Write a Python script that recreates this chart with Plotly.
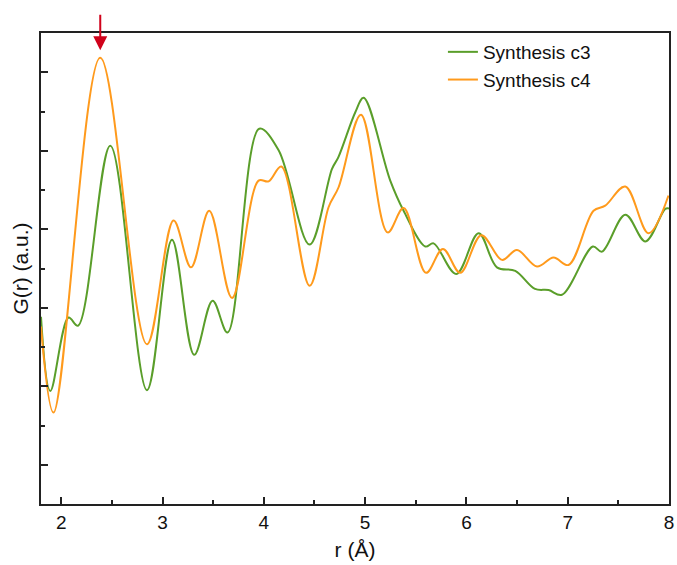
import plotly.graph_objects as go

# Synthesis c3 (green)
r_c3 = [1.80, 1.892, 2.072, 2.165, 2.484, 2.846, 3.093, 3.313, 3.494, 3.642,
        3.955, 4.146, 4.452, 4.673, 4.735, 4.903, 4.985, 5.248, 5.380, 5.594,
        5.676, 5.900, 6.120, 6.301, 6.482, 6.677, 6.811, 6.943, 7.248, 7.338,
        7.569, 7.767, 7.963, 8.0]
g_c3 = [-0.23, -2.12, -0.25, -0.46, 4.13, -2.10, 1.73, -1.20, 0.18, -0.63,
        4.56, 4.01, 1.61, 3.54, 3.83, 4.98, 5.35, 3.24, 2.47, 1.56,
        1.64, 0.86, 1.90, 1.03, 0.94, 0.48, 0.45, 0.33, 1.56, 1.43,
        2.37, 1.69, 2.52, 2.53]

# Synthesis c4 (orange)
r_c4 = [1.80, 1.924, 2.385, 2.846, 3.109, 3.281, 3.461, 3.686, 3.948, 4.047,
        4.172, 4.452, 4.639, 4.738, 4.959, 5.222, 5.380, 5.601, 5.768, 5.939,
        6.147, 6.351, 6.499, 6.696, 6.860, 7.008, 7.255, 7.370, 7.568, 7.798,
        7.995]
g_c4 = [-0.48, -2.67, 6.37, -0.93, 2.22, 1.03, 2.47, 0.25, 3.24, 3.22,
        3.60, 0.56, 2.56, 3.07, 4.92, 1.92, 2.54, 0.89, 1.50, 0.89,
        1.85, 1.22, 1.47, 1.05, 1.28, 1.09, 2.47, 2.60, 3.09, 1.90,
        2.86]

x_ticks = [2, 3, 4, 5, 6, 7, 8]
arrow_r = 2.385
arrow_g = 6.56

FONT = "Arial, Liberation Sans, sans-serif"

fig = go.Figure()
fig.add_trace(go.Scatter(x=r_c3, y=g_c3, mode="lines", name="Synthesis c3",
                         line=dict(color="#5a9e2a", width=2, shape="spline", smoothing=1.0)))
fig.add_trace(go.Scatter(x=r_c4, y=g_c4, mode="lines", name="Synthesis c4",
                         line=dict(color="#ff9a1c", width=2, shape="spline", smoothing=1.0)))

fig.add_annotation(x=arrow_r, y=arrow_g, xref="x", yref="y", text="",
                   showarrow=True, arrowhead=2, arrowsize=1.4, arrowwidth=2,
                   arrowcolor="#d0021b", ax=0, ay=-37)

axis_common = dict(showline=True, linecolor="#222222", linewidth=2, mirror=True,
                   showgrid=False, zeroline=False, ticks="inside", automargin=False,
                   tickcolor="#222222", tickwidth=2, ticklen=7)

fig.update_xaxes(range=[1.8, 8], tickvals=x_ticks, ticktext=[str(t) for t in x_ticks],
                 tickfont=dict(family=FONT, size=19, color="#111111"),
                 title=dict(text="r (Å)", font=dict(family=FONT, size=21, color="#111111"), standoff=11),
                 minor=dict(ticks="inside", ticklen=4, tickwidth=2, tickcolor="#222222",
                            tick0=1.5, dtick=1, showgrid=False),
                 **axis_common)
fig.update_yaxes(range=[-5, 7], tick0=0, dtick=2, showticklabels=False,
                 title=dict(text="G(r) (a.u.)", font=dict(family=FONT, size=21, color="#111111"), standoff=5),
                 minor=dict(ticks="inside", ticklen=4, tickwidth=2, tickcolor="#222222",
                            tick0=1, dtick=2, showgrid=False),
                 **axis_common)

fig.update_layout(
    width=677, height=565,
    margin=dict(l=41, r=8, t=33, b=61),
    paper_bgcolor="white", plot_bgcolor="white",
    showlegend=True,
    legend=dict(x=0.64, y=1.0, xanchor="left", yanchor="top",
                font=dict(family=FONT, size=19, color="#111111"),
                bgcolor="rgba(0,0,0,0)", tracegroupgap=0),
)

fig.write_html("out.html")
